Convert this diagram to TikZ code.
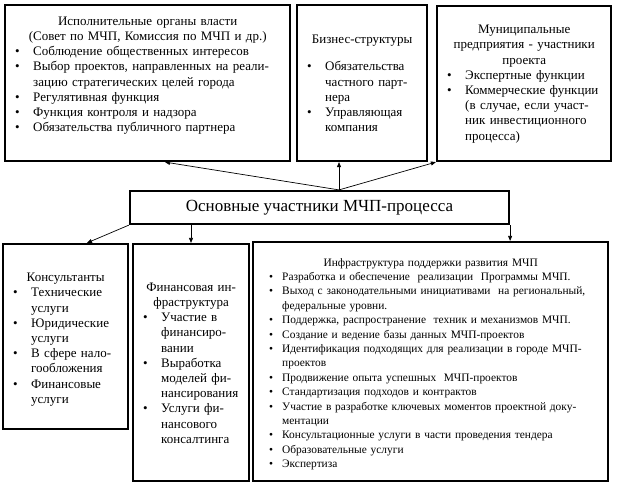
\documentclass[tikz,border=0pt]{standalone}
\usepackage{fontspec}
\setmainfont{Liberation Serif}
\usepackage{tikz}
\usetikzlibrary{positioning,arrows.meta,calc}
\newlength\bpos
\newlength\tpos
\newcommand\bul{\makebox[\tpos][l]{\hspace*{\bpos}\textbullet}}
\newcommand\ind{\hspace*{\tpos}}
\newcommand\ttl[1]{\makebox[\hsize]{#1}}
\tikzset{
  box/.style={draw, line width=2.2pt, inner sep=0pt},
  txt/.style={anchor=north west, inner sep=0pt, align=left,
              font=\fontsize{13}{15.2}\selectfont,
              execute at begin node={\parindent=0pt\setlength\bpos{10pt}\setlength\tpos{28pt}}},
  smalltxt/.style={txt, font=\fontsize{11.4}{14.4}\selectfont,
              execute at begin node={\parindent=0pt\setlength\bpos{16pt}\setlength\tpos{29pt}}},
  core/.style={box, font=\fontsize{17}{20}\selectfont},
  arr/.style={-{Triangle[length=5pt,width=4pt]}, line width=0.7pt}
}
\begin{document}
\begin{tikzpicture}[x=1pt,y=-1pt]
  \useasboundingbox (0,0) rectangle (617,485);
  \node[box, minimum width=285, minimum height=156] (exec) at (147.5,83) {};
  \node[box, minimum width=130, minimum height=156] (biz) at (362,83) {};
  \node[box, minimum width=174, minimum height=155] (muni) at (524,83.5) {};
  \node[core, minimum width=379, minimum height=33] (main) at (319.5,207.5) {Основные участники МЧП-процесса};
  \node[box, minimum width=125, minimum height=185] (cons) at (65.5,336.5) {};
  \node[box, minimum width=116, minimum height=237] (fin) at (191,362.5) {};
  \node[box, minimum width=355, minimum height=239] (infra) at (430.5,361.5) {};

  \node[txt, text width=285] (execT) at (5,16.5) {\ttl{Исполнительные органы власти}\\
    \ttl{(Совет по МЧП, Комиссия по МЧП и др.)}\\
    \bul Соблюдение общественных интересов\\
    \bul Выбор проектов, направленных на реали-\\
    \ind зацию стратегических целей города\\
    \bul Регулятивная функция\\
    \bul Функция контроля и надзора\\
    \bul Обязательства публичного партнера};
  \node[txt, text width=130] (bizT) at (297,35) {\ttl{Бизнес-структуры}\\[12pt]
    \bul Обязательства\\
    \ind частного парт-\\
    \ind нера\\
    \bul Управляющая\\
    \ind компания};
  \node[txt, text width=174] (muniT) at (437,25) {\ttl{Муниципальные}\\
    \ttl{предприятия - участники}\\
    \ttl{проекта}\\
    \bul Экспертные функции\\
    \bul Коммерческие функции\\
    \ind (в случае, если участ-\\
    \ind ник инвестиционного\\
    \ind процесса)};
  \node[txt, text width=125] (consT) at (3,273) {\ttl{Консультанты}\\
    \bul Технические\\
    \ind услуги\\
    \bul Юридические\\
    \ind услуги\\
    \bul В сфере нало-\\
    \ind гообложения\\
    \bul Финансовые\\
    \ind услуги};
  \node[txt, text width=116] (finT) at (133,282.5) {\ttl{Финансовая ин-}\\
    \ttl{фраструктура}\\
    \bul Участие в\\
    \ind финансиро-\\
    \ind вании\\
    \bul Выработка\\
    \ind моделей фи-\\
    \ind нансирования\\
    \bul Услуги фи-\\
    \ind нансового\\
    \ind консалтинга};
  \node[smalltxt, text width=355] (infraT) at (253,258) {\ttl{Инфраструктура поддержки развития МЧП}\\
    \bul Разработка и обеспечение \ реализации \ Программы МЧП.\\
    \bul Выход с законодательными инициативами \ на региональный,\\
    \ind федеральные уровни.\\
    \bul Поддержка, распространение \ техник и механизмов МЧП.\\
    \bul Создание и ведение базы данных МЧП-проектов\\
    \bul Идентификация подходящих для реализации в городе МЧП-\\
    \ind проектов\\
    \bul Продвижение опыта успешных \ МЧП-проектов\\
    \bul Стандартизация подходов и контрактов\\
    \bul Участие в разработке ключевых моментов проектной доку-\\
    \ind ментации\\
    \bul Консультационные услуги в части проведения тендера\\
    \bul Образовательные услуги\\
    \bul Экспертиза};

  \coordinate (hub) at ([xshift=19.5pt]main.north);
  \draw[arr] (hub) -- (hub |- biz.south);
  \draw[arr] (hub) -- ([xshift=17.5pt]exec.south);
  \draw[arr] (hub) -- (muni.south west);
  \draw[arr] (main.south west) -- ([xshift=21.5pt]cons.north);
  \draw[arr] (fin.north |- main.south) -- (fin.north);
  \draw[arr] (main.south east) -- (main.south east |- infra.north);
\end{tikzpicture}
\end{document}
